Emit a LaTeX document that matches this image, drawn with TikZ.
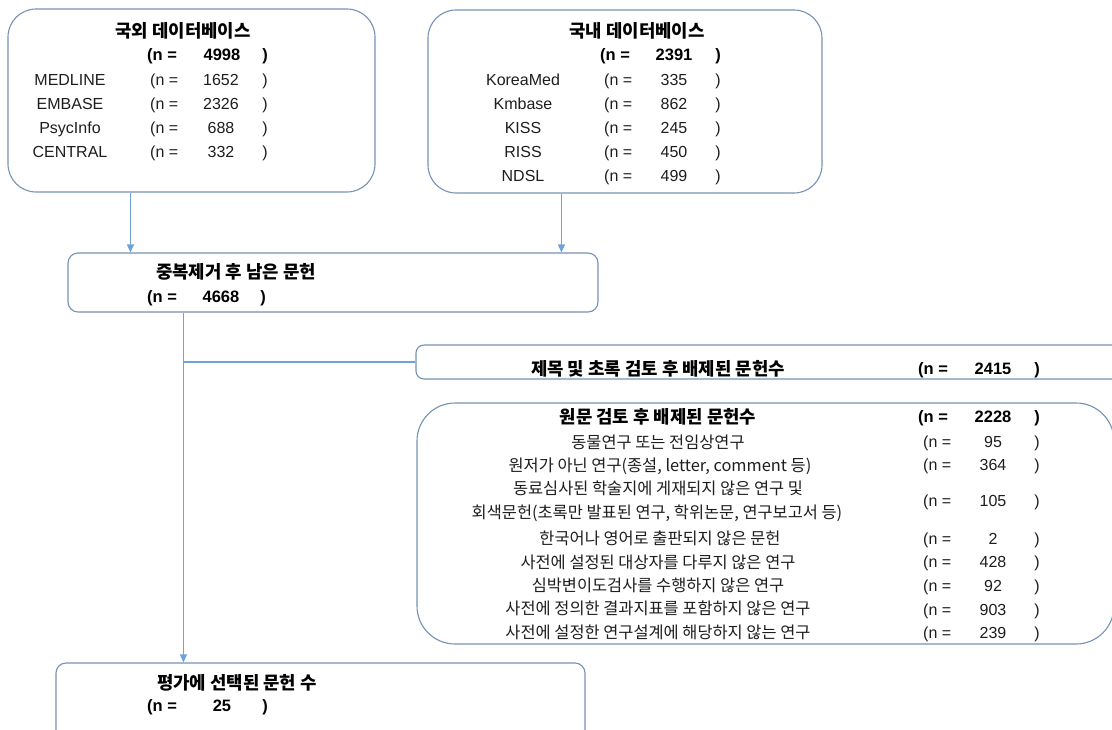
\documentclass[tikz,border=0pt]{standalone}
\usepackage{fontspec}
\setmainfont{Liberation Sans}
\newfontfamily\kr{Noto Sans CJK KR}
\usetikzlibrary{arrows.meta,calc}
\definecolor{boxc}{RGB}{118,146,180}
\definecolor{linec}{RGB}{110,163,218}
\definecolor{txt}{RGB}{30,30,30}
\tikzset{
  box/.style={draw=boxc, line width=1.1pt, inner sep=0pt},
  conn/.style={draw=linec, line width=1.1pt},
  tip/.style={-{Triangle[length=8pt,width=7pt]}},
  lat/.style={font=\fontsize{16}{19}\selectfont, text=txt, inner sep=0pt, yshift=-5.8pt},
  latb/.style={font=\fontsize{16.5}{19}\selectfont\bfseries, text=black, inner sep=0pt, yshift=-5.9pt},
  krr/.style={font=\kr\fontsize{16.4}{19}\selectfont, text=txt, inner sep=0pt, yshift=-6.2pt},
  krb/.style={font=\kr\fontsize{17.8}{20}\selectfont\bfseries, text=black, inner sep=0pt, yshift=-6.6pt}
}
\begin{document}
\begin{tikzpicture}[x=1pt,y=-1pt]
\clip (0,0) rectangle (1112,729);
\fill[white] (0,0) rectangle (1112,729);
% boxes
\node[box, rounded corners=28pt, minimum width=367pt, minimum height=183pt] (b1) at (191.5,100.5) {};
\node[box, rounded corners=28pt, minimum width=394pt, minimum height=183pt] (b2) at (625,101.5) {};
\node[box, rounded corners=10pt, minimum width=530pt, minimum height=59pt] (b3) at (333,282.5) {};
\node[box, rounded corners=8pt, minimum width=709pt, minimum height=34pt] (b4) at (770.5,362) {};
\node[box, rounded corners=38pt, minimum width=697pt, minimum height=241pt] (b5) at (765.5,523.5) {};
\node[box, rounded corners=10pt, minimum width=529pt, minimum height=84pt] (b6) at (320.5,705) {};
% connectors
\coordinate (s1) at ([xshift=123pt]b1.south west);
\coordinate (s2) at ([xshift=134pt]b2.south west);
\coordinate (trunk) at ([xshift=116pt]b3.south west);
\draw[conn,tip] (s1) -- (s1 |- b3.north);
\draw[conn,tip] (s2) -- (s2 |- b3.north);
\draw[conn,tip] (trunk) -- (trunk |- b6.north);
\draw[conn] (trunk |- b4.west) -- (b4.west);
% box 1
\node[krb, anchor=base] (t1) at (183,31) {국외 데이터베이스};
\node[latb, anchor=base west] (t1n) at (147,55) {(n =};
\node[latb, anchor=base] (t1v) at (222,55) {4998};
\node[latb, anchor=base] (t1p) at (265,55) {)};
\foreach \nm/\v/\yy [count=\i] in {MEDLINE/1652/80, EMBASE/2326/104, PsycInfo/688/128, CENTRAL/332/152}{
  \node[lat, anchor=base] (a\i) at (70,\yy) {\nm};
  \node[lat, anchor=base west] (an\i) at (150,\yy) {(n =};
  \node[lat, anchor=base] (av\i) at (221,\yy) {\v};
  \node[lat, anchor=base] (ap\i) at (265,\yy) {)};
}
% box 2
\node[krb, anchor=base] (t2) at (637,31) {국내 데이터베이스};
\node[latb, anchor=base west] (t2n) at (600,55) {(n =};
\node[latb, anchor=base] (t2v) at (674,55) {2391};
\node[latb, anchor=base] (t2p) at (718,55) {)};
\foreach \nm/\v/\yy [count=\i] in {KoreaMed/335/80, Kmbase/862/104, KISS/245/128, RISS/450/152, NDSL/499/176}{
  \node[lat, anchor=base] (d\i) at (523,\yy) {\nm};
  \node[lat, anchor=base west] (dn\i) at (604,\yy) {(n =};
  \node[lat, anchor=base] (dv\i) at (674,\yy) {\v};
  \node[lat, anchor=base] (dp\i) at (718,\yy) {)};
}
% box 3
\node[krb, anchor=base] (t3) at (236,272) {중복제거 후 남은 문헌};
\node[latb, anchor=base west] (t3n) at (147,297) {(n =};
\node[latb, anchor=base] (t3v) at (221,297) {4668};
\node[latb, anchor=base] (t3p) at (263,297) {)};
% box 4
\node[krb, anchor=base] (t4) at (658,369) {제목 및 초록 검토 후 배제된 문헌수};
\node[latb, anchor=base west] (t4n) at (918,369) {(n =};
\node[latb, anchor=base] (t4v) at (993,369) {2415};
\node[latb, anchor=base] (t4p) at (1037,369) {)};
% box 5
\node[krb, anchor=base] (t5) at (658,417) {원문 검토 후 배제된 문헌수};
\node[latb, anchor=base west] (t5n) at (918,417) {(n =};
\node[latb, anchor=base] (t5v) at (993,417) {2228};
\node[latb, anchor=base] (t5p) at (1037,417) {)};
\node[krr, anchor=base] (r1) at (658,442) {동물연구 또는 전임상연구};
\node[krr, anchor=base] (r2) at (660,465) {원저가 아닌 연구(종설, letter, comment 등)};
\node[krr, anchor=base] (r3a) at (658,488) {동료심사된 학술지에 게재되지 않은 연구 및};
\node[krr, anchor=base] (r3b) at (657,512) {회색문헌(초록만 발표된 연구, 학위논문, 연구보고서 등)};
\node[krr, anchor=base] (r4) at (660,538) {한국어나 영어로 출판되지 않은 문헌};
\node[krr, anchor=base] (r5) at (658,562) {사전에 설정된 대상자를 다루지 않은 연구};
\node[krr, anchor=base] (r6) at (658,585) {심박변이도검사를 수행하지 않은 연구};
\node[krr, anchor=base] (r7) at (658,608) {사전에 정의한 결과지표를 포함하지 않은 연구};
\node[krr, anchor=base] (r8) at (658,632) {사전에 설정한 연구설계에 해당하지 않는 연구};
\foreach \v/\yy [count=\i] in {95/442, 364/465, 105/501, 2/539, 428/562, 92/586, 903/610, 239/633}{
  \node[lat, anchor=base west] (en\i) at (923,\yy) {(n =};
  \node[lat, anchor=base] (ev\i) at (993,\yy) {\v};
  \node[lat, anchor=base] (ep\i) at (1037,\yy) {)};
}
% box 6
\node[krb, anchor=base] (t6) at (237,683) {평가에 선택된 문헌 수};
\node[latb, anchor=base west] (t6n) at (147,706) {(n =};
\node[latb, anchor=base] (t6v) at (222,706) {25};
\node[latb, anchor=base] (t6p) at (265,706) {)};
\end{tikzpicture}
\end{document}
